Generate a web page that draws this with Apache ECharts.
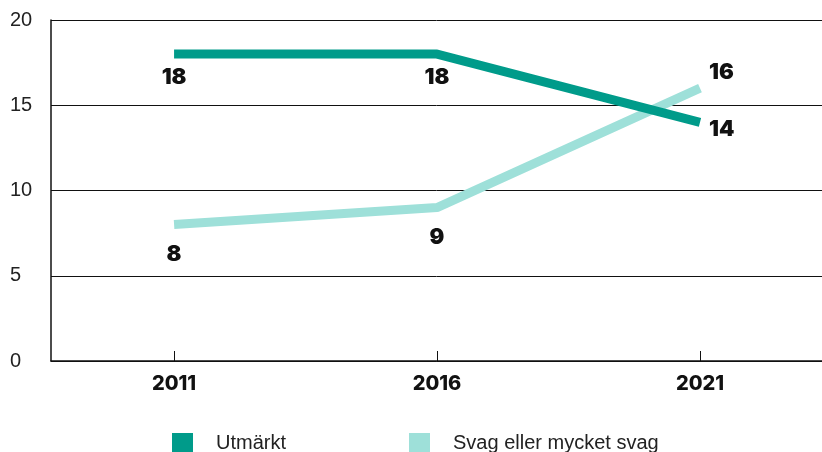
<!DOCTYPE html>
<html lang="sv">
<head>
    <meta charset="UTF-8">
    <script type="text/javascript" src="https://cdn.jsdelivr.net/npm/echarts@6/dist/echarts.min.js"></script>
    <title>Utmärkt / Svag</title>
    <style>
        html, body { margin: 0; padding: 0; background: #fff; }
        #main { width: 822px; height: 452px; }
    </style>
</head>
<body>
<div id="main"></div>
<script type="text/javascript">
    // data
    var years = [2011, 2016, 2021];
    var utmarkt = [18, 18, 14];
    var svag = [8, 9, 16];
    var seriesNames = ['Utmärkt', 'Svag eller mycket svag'];
    var yTicks = [0, 5, 10, 15, 20];

    function pairs(vals) {
        var out = [];
        for (var i = 0; i < years.length; i++) {
            out.push([years[i], vals[i]]);
        }
        return out;
    }

    // label placement per point (last point sits to the right)
    function labelled(vals, last) {
        var d = pairs(vals);
        return d.map(function (p, i) {
            if (i === d.length - 1) {
                return { value: p, label: { position: 'right', distance: 9, offset: last } };
            }
            return { value: p };
        });
    }

    var labelFont = {
        show: true,
        fontFamily: 'Inter',
        fontWeight: 900,
        fontSize: 22,
        color: '#111',
        formatter: function (p) { return p.value[1]; }
    };

    var myChart = echarts.init(document.getElementById('main'));
    var option = {
        animation: false,
        backgroundColor: '#fff',
        grid: { left: 51, right: 0, top: 20, bottom: 91 },
        legend: {
            left: 167,
            top: 428,
            itemWidth: 21,
            itemHeight: 21,
            itemGap: 123,
            icon: 'rect',
            data: seriesNames,
            textStyle: {
                fontFamily: 'Liberation Sans',
                fontSize: 20,
                color: '#222',
                padding: [0, 0, 0, 18]
            }
        },
        xAxis: {
            type: 'value',
            min: 2008.66,
            max: 2023.32,
            splitLine: { show: false },
            axisLine: { show: true, lineStyle: { color: '#111', width: 1.5 } },
            axisTick: { show: true, inside: true, length: 10, customValues: years, lineStyle: { color: '#111' } },
            axisLabel: {
                customValues: years,
                margin: 13,
                fontFamily: 'Inter',
                fontWeight: 800,
                fontSize: 20,
                color: '#111',
                formatter: function (v) { return String(v); }
            }
        },
        yAxis: {
            type: 'value',
            min: yTicks[0],
            max: yTicks[yTicks.length - 1],
            interval: 5,
            axisLine: { show: true, lineStyle: { color: '#111', width: 1.5 } },
            axisTick: { show: false },
            splitLine: { show: true, lineStyle: { color: '#111', width: 1 } },
            axisLabel: {
                align: 'left',
                margin: 41,
                fontFamily: 'Liberation Sans',
                fontSize: 20,
                color: '#222'
            }
        },
        series: [
            {
                name: seriesNames[0],
                type: 'line',
                symbol: 'circle',
                symbolSize: 0,
                showSymbol: true,
                data: labelled(utmarkt, [0, 7]),
                itemStyle: { color: '#009b8a' },
                lineStyle: { color: '#009b8a', width: 9, cap: 'butt' },
                label: Object.assign({ position: 'bottom', distance: 12 }, labelFont),
                z: 3
            },
            {
                name: seriesNames[1],
                type: 'line',
                symbol: 'circle',
                symbolSize: 0,
                showSymbol: true,
                data: labelled(svag, [0, -16]),
                itemStyle: { color: '#9ee0d9' },
                lineStyle: { color: '#9ee0d9', width: 9, cap: 'butt' },
                label: Object.assign({ position: 'bottom', distance: 19 }, labelFont),
                z: 2
            }
        ]
    };
    myChart.setOption(option);
</script>
</body>
</html>
